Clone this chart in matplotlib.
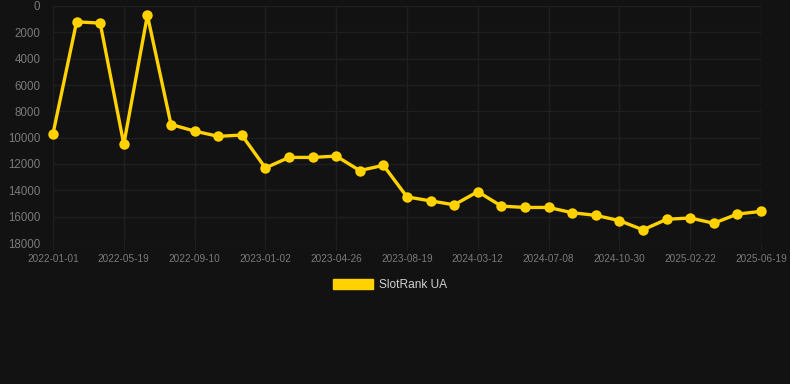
import matplotlib.pyplot as plt
from matplotlib.patches import Patch

# Dane - pozycja w rankingu (mniejsza = lepsza)
dates = ['2022-01-01', '2022-02-16', '2022-04-03', '2022-05-19', '2022-06-27',
         '2022-08-02', '2022-09-10', '2022-10-22', '2022-11-30', '2023-01-02',
         '2023-02-14', '2023-03-20', '2023-04-26', '2023-06-03', '2023-07-12',
         '2023-08-19', '2023-11-02', '2024-01-04', '2024-03-12', '2024-04-20',
         '2024-05-30', '2024-07-08', '2024-08-20', '2024-09-24', '2024-10-30',
         '2024-12-08', '2025-01-15', '2025-02-22', '2025-04-01', '2025-05-11',
         '2025-06-19']
rank = [9700, 1200, 1300, 10500, 700, 9000, 9500, 9900, 9800, 12300,
        11500, 11500, 11400, 12500, 12100, 14500, 14800, 15100, 14100, 15200,
        15300, 15300, 15700, 15900, 16300, 17000, 16200, 16100, 16500, 15800,
        15600]
y_ticks = list(range(0, 18001, 2000))

bg = '#121212'
gold = '#FFD200'
grid_c = '#1f1f1f'
txt_c = '#7a7a7a'

plt.rcParams['font.family'] = ['Liberation Sans', 'DejaVu Sans']

fig = plt.figure(figsize=(7.9, 3.84), dpi=100, facecolor=bg)
ax = fig.add_axes([53 / 790, 1 - 243 / 384, (761 - 53) / 790, (243 - 6) / 384])
ax.set_facecolor(bg)

x = list(range(len(rank)))
ax.plot(x, rank, color=gold, linewidth=2.4, marker='o', markersize=7.5,
        markeredgewidth=0, solid_joinstyle='round', clip_on=False, zorder=3)

ax.set_xlim(0, len(rank) - 1)
ax.set_ylim(18000, 0)
ax.set_yticks(y_ticks)
ax.set_yticklabels([str(v) for v in y_ticks], fontsize=8.3, color=txt_c)
ax.set_xticks(x[::3])
ax.set_xticklabels(dates[::3], fontsize=7.2, color=txt_c)

ax.grid(True, color=grid_c, linewidth=1)
ax.tick_params(axis='y', length=0, pad=9)
ax.tick_params(axis='x', length=5, color=grid_c, pad=3)
for s in ax.spines.values():
    s.set_visible(False)

leg = fig.legend(handles=[Patch(facecolor=gold, edgecolor=gold)], labels=['SlotRank UA'],
                 loc='center', bbox_to_anchor=(390 / 790, 1 - 285 / 384),
                 frameon=False, fontsize=8.6, handlelength=3.3, handleheight=0.9,
                 handletextpad=0.5)
for t in leg.get_texts():
    t.set_color('#d0d0d0')

fig.savefig('out.png', dpi=100, facecolor=bg)
